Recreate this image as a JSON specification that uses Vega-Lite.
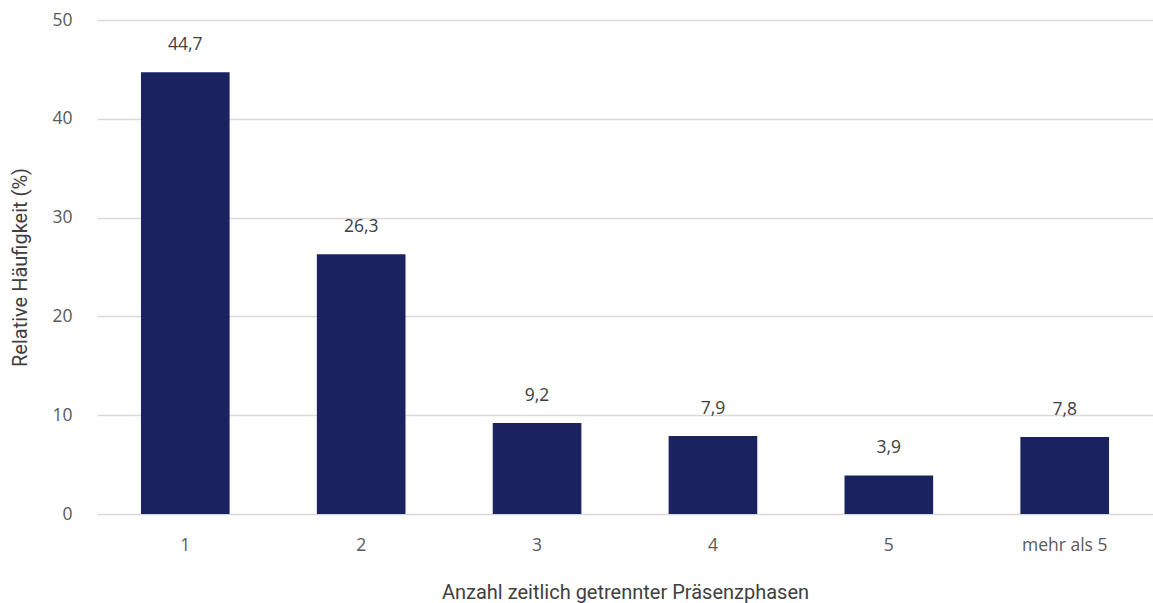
{
  "$schema": "https://vega.github.io/schema/vega-lite/v6.json",
  "autosize": "none",
  "width": 1056,
  "height": 494,
  "padding": {"left": 97, "top": 20, "right": 0, "bottom": 89},
  "background": "white",
  "config": {"view": {"stroke": null}},
  "data": {"values": [
    {"k": "1", "v": 44.7, "t": "44,7"},
    {"k": "2", "v": 26.3, "t": "26,3"},
    {"k": "3", "v": 9.2, "t": "9,2"},
    {"k": "4", "v": 7.9, "t": "7,9"},
    {"k": "5", "v": 3.9, "t": "3,9"},
    {"k": "mehr als 5", "v": 7.8, "t": "7,8"}
  ]},
  "encoding": {
    "x": {"field": "k", "type": "nominal", "sort": null,
      "scale": {"paddingInner": 0.496, "paddingOuter": 0.25},
      "axis": {"labelAngle": 0, "domain": false, "ticks": false, "labelPadding": 22,
        "labelFont": "Open Sans", "labelFontSize": 17.5, "labelColor": "#595959",
        "title": "Anzahl zeitlich getrennter Präsenzphasen", "titleFont": "Roboto",
        "titleFontSize": 20, "titleFontWeight": "normal", "titleColor": "#404040", "titlePadding": 29}},
    "y": {"field": "v", "type": "quantitative", "scale": {"domain": [0, 50]},
      "axis": {"values": [0, 10, 20, 30, 40, 50], "domain": false, "ticks": false, "labelPadding": 25,
        "labelFont": "Open Sans", "labelFontSize": 17.5, "labelColor": "#595959",
        "gridColor": "#d9d9d9", "gridWidth": 1.5,
        "title": "Relative Häufigkeit (%)", "titleFont": "Roboto", "titleFontSize": 20,
        "titleFontWeight": "normal", "titleColor": "#404040", "titleX": -77, "titleY": 247, "titleAngle": -90, "titleBaseline": "middle", "titleAlign": "center"}}
  },
  "layer": [
    {"mark": {"type": "bar", "color": "#1a2360"}},
    {"mark": {"type": "text", "dy": -27, "baseline": "middle", "font": "Open Sans", "fontSize": 17.5, "color": "#404040"},
     "encoding": {"text": {"field": "t"}}}
  ]
}
